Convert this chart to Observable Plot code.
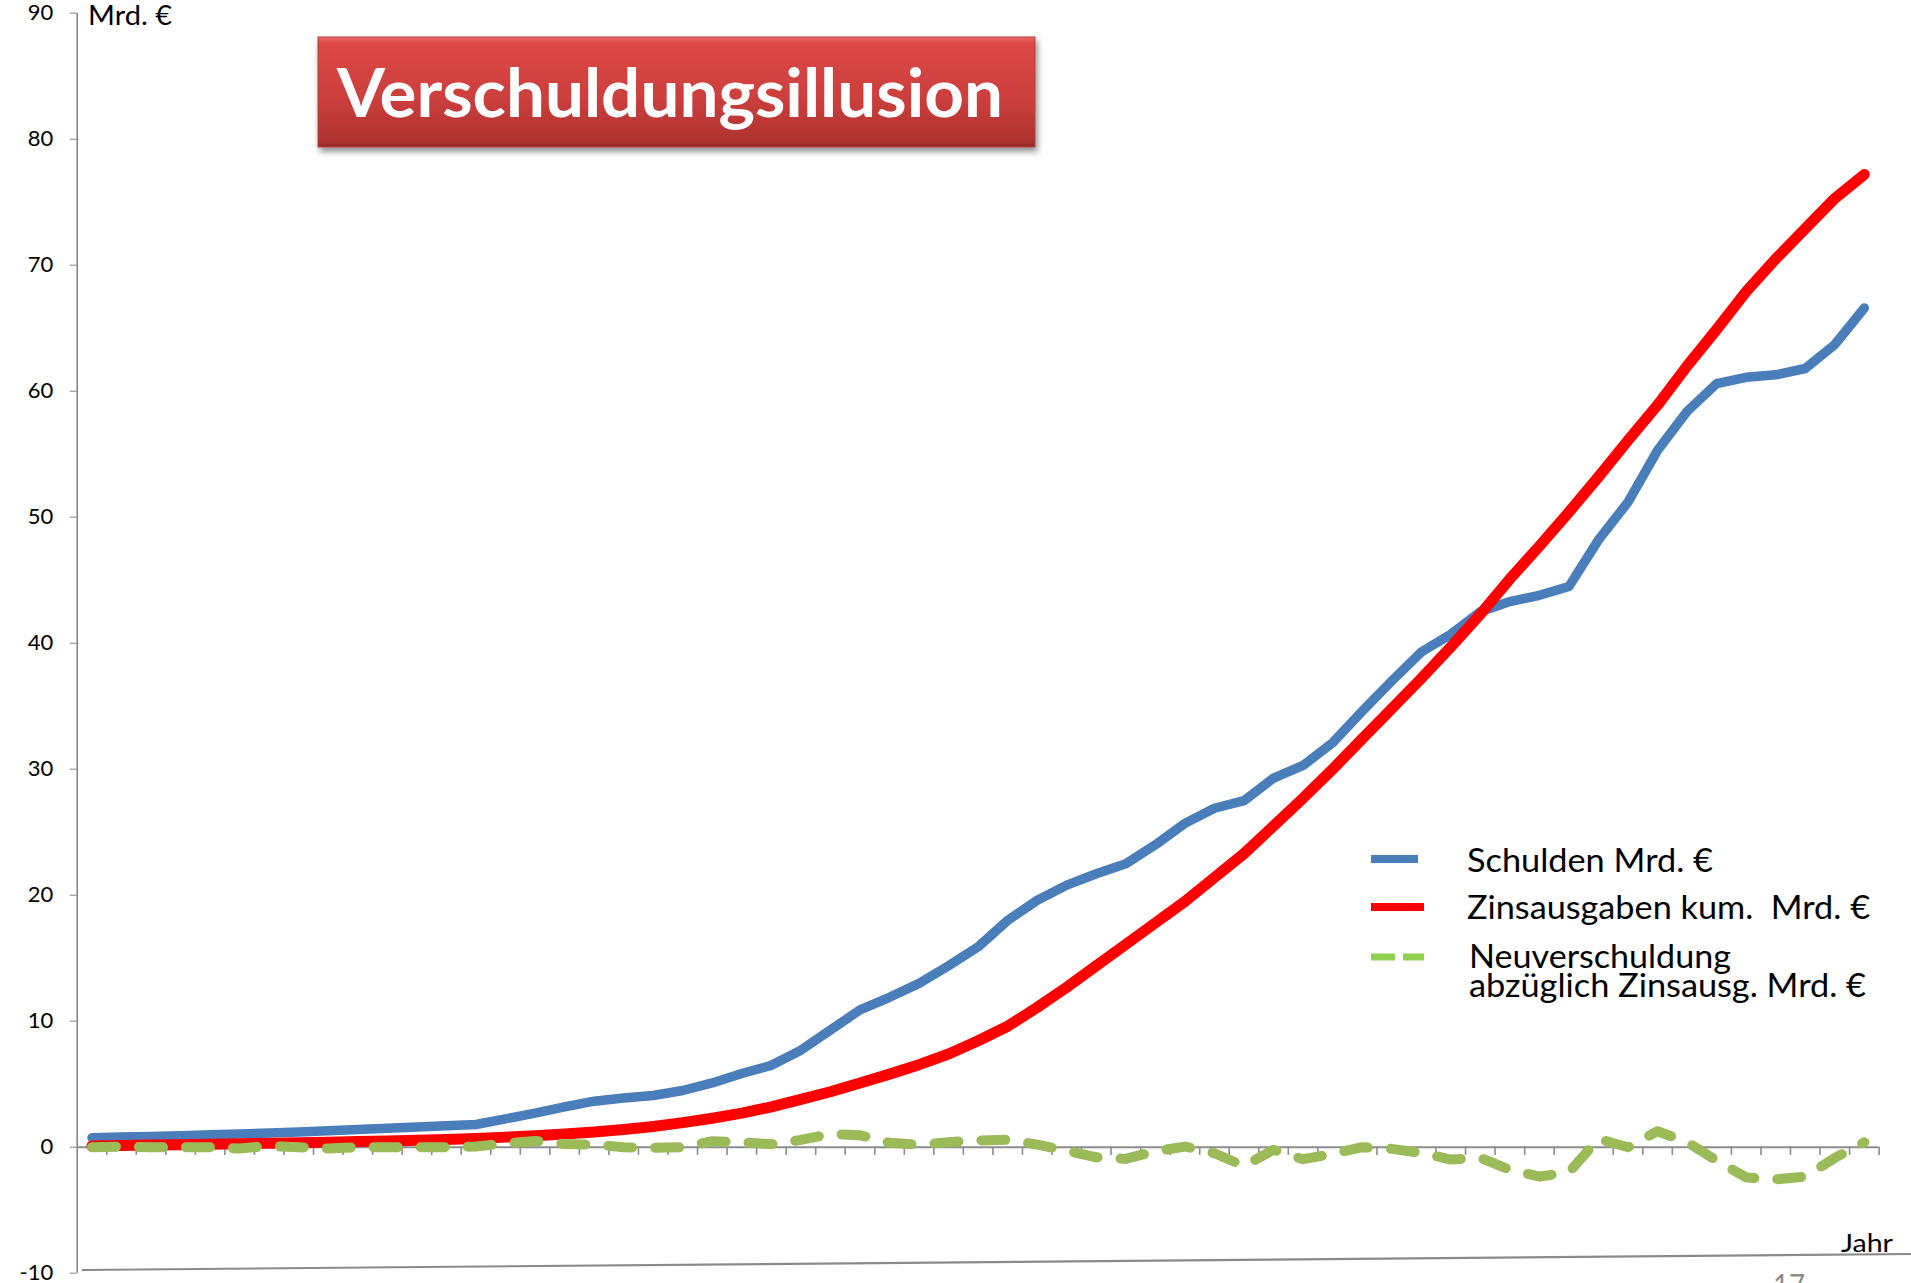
<!DOCTYPE html>
<html>
<head>
<meta charset="utf-8">
<script src="https://cdn.jsdelivr.net/npm/d3@7"></script>
<script src="https://cdn.jsdelivr.net/npm/@observablehq/plot@0.6"></script>
<style>
  html, body { margin: 0; padding: 0; background: #fff; overflow: hidden; }
  #wrap { position: relative; width: 1911px; height: 1283px; overflow: hidden; }
  #wrap > svg.overlay { position: absolute; left: 0; top: 0; pointer-events: none; }
  #chart { position: absolute; left: 0; top: 0; }
</style>
</head>
<body>
<div id="wrap"><div id="chart"></div></div>
<script>
// ---- data ----
const perioden = [1,2,3,4,5,6,7,8,9,10,11,12,13,14,15,16,17,18,19,20,
  21,22,23,24,25,26,27,28,29,30,31,32,33,34,35,36,37,38,39,40,
  41,42,43,44,45,46,47,48,49,50,51,52,53,54,55,56,57,58,59,60,61];

const schulden = [0.75,0.8,0.85,0.9,0.98,1.05,1.13,1.2,1.3,1.4,
  1.5,1.6,1.7,1.8,2.25,2.7,3.2,3.65,3.9,4.1,
  4.5,5.1,5.85,6.5,7.7,9.3,10.9,11.9,13.0,14.4,
  15.9,18.0,19.6,20.8,21.7,22.5,24.0,25.7,26.9,27.5,
  29.3,30.3,32.1,34.6,37.0,39.3,40.7,42.5,43.3,43.8,
  44.5,48.2,51.2,55.3,58.4,60.6,61.1,61.3,61.8,63.7,
  66.6];

const zinsKum = [0.1,0.13,0.17,0.2,0.24,0.28,0.32,0.36,0.4,0.45,
  0.5,0.55,0.62,0.7,0.8,0.9,1.05,1.2,1.4,1.65,
  1.95,2.3,2.7,3.2,3.8,4.4,5.1,5.8,6.55,7.4,
  8.45,9.6,11.1,12.7,14.4,16.1,17.8,19.5,21.4,23.3,
  25.5,27.7,30.0,32.4,34.8,37.2,39.7,42.3,45.1,47.7,
  50.4,53.2,56.1,58.9,62.0,64.9,67.9,70.5,72.9,75.3,
  77.2];

const neuMinusZins = [0,0.05,0,0,0,-0.1,0.1,0,-0.1,0,
  0,0,0,0.05,0.3,0.5,0.25,0.2,0,-0.05,
  0,0.48,0.38,0.24,0.58,1.05,0.95,0.35,0.2,0.4,
  0.53,0.6,0.2,-0.27,-0.8,-0.93,-0.32,0.05,-0.48,-1.5,
  -0.2,-0.95,-0.53,0,-0.13,-0.45,-0.98,-0.85,-1.8,-2.33,
  -2.0,0.66,0,1.27,0.4,-1.06,-2.4,-2.55,-2.33,-0.85,
  0.4];

const yTicks = [-10,0,10,20,30,40,50,60,70,80,90];

const seriesNames = ["Schulden Mrd. €", "Zinsausgaben kum.  Mrd. €", "Neuverschuldung", "abzüglich Zinsausg. Mrd. €"];
const titleText = "Verschuldungsillusion";
const yUnit = "Mrd. €";
const xUnit = "Jahr";

// ---- table for Plot ----
const rows = perioden.map((p, i) => ({
  x: p - 0.5,
  schulden: schulden[i],
  zins: zinsKum[i],
  neu: neuMinusZins[i]
}));
const boundaries = perioden.slice(); // category boundaries 1..61

const FONT = "Lato, 'Open Sans', sans-serif";

const chart = Plot.plot({
  width: 1911,
  height: 1283,
  marginLeft: 76.7,
  marginRight: 32.4,
  marginTop: 12.7,
  marginBottom: 10.3,
  x: {domain: [0, perioden.length], axis: null},
  y: {domain: [-10, 90], axis: null},
  style: {fontFamily: FONT, background: "transparent", overflow: "visible", color: "black"},
  marks: [
    Plot.ruleX([0], {y1: -10, y2: 90, stroke: "#868686", strokeWidth: 1.6}),
    Plot.axisY(yTicks, {
      tickSize: 7, tickPadding: 17, fontSize: 22,
      stroke: "#868686", fill: "black",
      tickFormat: d => String(d), label: null
    }),
    Plot.ruleY([0], {x1: 0, x2: perioden.length, stroke: "#8c8c8c", strokeWidth: 2}),
    Plot.ruleX(boundaries, {y1: 0, y2: -0.65, stroke: "#8c8c8c", strokeWidth: 1.6}),
    Plot.line(rows, {x: "x", y: "schulden", stroke: "#4a7ebb", strokeWidth: 9.5,
      strokeLinecap: "round", strokeLinejoin: "round"}),
    Plot.line(rows, {x: "x", y: "zins", stroke: "#ff0000", strokeWidth: 11,
      strokeLinecap: "round", strokeLinejoin: "round"}),
    Plot.line(rows, {x: "x", y: "neu", stroke: "#9bbb59", strokeWidth: 10,
      strokeLinecap: "round", strokeLinejoin: "round", strokeDasharray: "24 23"})
  ]
});
document.getElementById("chart").appendChild(chart);

// ---- overlay: title box, legend, unit labels ----
const ov = d3.select("#wrap").append("svg")
  .attr("class", "overlay")
  .attr("width", 1911).attr("height", 1283)
  .style("font-family", FONT);

const defs = ov.append("defs");
const grad = defs.append("linearGradient").attr("id", "tg").attr("x1", 0).attr("y1", 0).attr("x2", 0).attr("y2", 1);
grad.append("stop").attr("offset", "0%").attr("stop-color", "#ea6a67");
grad.append("stop").attr("offset", "6%").attr("stop-color", "#dc4846");
grad.append("stop").attr("offset", "55%").attr("stop-color", "#cc3f3d");
grad.append("stop").attr("offset", "94%").attr("stop-color", "#ae3330");
grad.append("stop").attr("offset", "100%").attr("stop-color", "#8f2a28");
const flt = defs.append("filter").attr("id", "sh").attr("x", "-5%").attr("y", "-10%").attr("width", "115%").attr("height", "140%");
flt.append("feDropShadow").attr("dx", 2).attr("dy", 4).attr("stdDeviation", 3).attr("flood-color", "#000").attr("flood-opacity", 0.45);

ov.append("rect").attr("x", 318).attr("y", 37).attr("width", 717).attr("height", 110)
  .attr("fill", "url(#tg)").attr("stroke", "#b8403d").attr("stroke-width", 1)
  .attr("filter", "url(#sh)");
ov.append("text").attr("x", 337).attr("y", 117)
  .attr("fill", "white").attr("font-weight", 700).attr("font-size", 67)
  .attr("textLength", 666).attr("lengthAdjust", "spacingAndGlyphs")
  .text(titleText);

ov.append("text").attr("x", 88).attr("y", 25).attr("font-size", 26)
  .attr("textLength", 84).attr("lengthAdjust", "spacingAndGlyphs").text(yUnit);
ov.append("text").attr("x", 1841).attr("y", 1252).attr("font-size", 25)
  .attr("textLength", 52).attr("lengthAdjust", "spacingAndGlyphs").text(xUnit);

// slide decorations: bottom line and page number
ov.append("line").attr("x1", 82).attr("y1", 1270).attr("x2", 1911).attr("y2", 1254)
  .attr("stroke", "#8a8a8a").attr("stroke-width", 2.2);
ov.append("text").attr("x", 1773).attr("y", 1296).attr("font-size", 30).attr("fill", "#8c8c8c")
  .attr("textLength", 32).attr("lengthAdjust", "spacingAndGlyphs").text("17");

// legend
const lg = ov.append("g");
lg.append("line").attr("x1", 1371).attr("x2", 1418).attr("y1", 859).attr("y2", 859)
  .attr("stroke", "#4a7ebb").attr("stroke-width", 8);
lg.append("line").attr("x1", 1371).attr("x2", 1424).attr("y1", 907).attr("y2", 907)
  .attr("stroke", "#ff0000").attr("stroke-width", 8);
lg.append("line").attr("x1", 1371).attr("x2", 1424).attr("y1", 957).attr("y2", 957)
  .attr("stroke", "#92d050").attr("stroke-width", 7).attr("stroke-dasharray", "24 8");
[
  {t: seriesNames[0], x: 1467, y: 872, w: 246},
  {t: seriesNames[1], x: 1467, y: 919, w: 403}
].forEach(d => {
  lg.append("text").attr("x", d.x).attr("y", d.y).attr("font-size", 32)
    .attr("textLength", d.w).attr("lengthAdjust", "spacingAndGlyphs")
    .style("white-space", "pre").text(d.t);
});
const two = lg.append("text").attr("font-size", 32);
two.append("tspan").attr("x", 1469).attr("y", 968)
  .attr("textLength", 262).attr("lengthAdjust", "spacingAndGlyphs").text(seriesNames[2]);
two.append("tspan").attr("x", 1469).attr("y", 997)
  .attr("textLength", 397).attr("lengthAdjust", "spacingAndGlyphs").text(seriesNames[3]);
</script>
</body>
</html>
